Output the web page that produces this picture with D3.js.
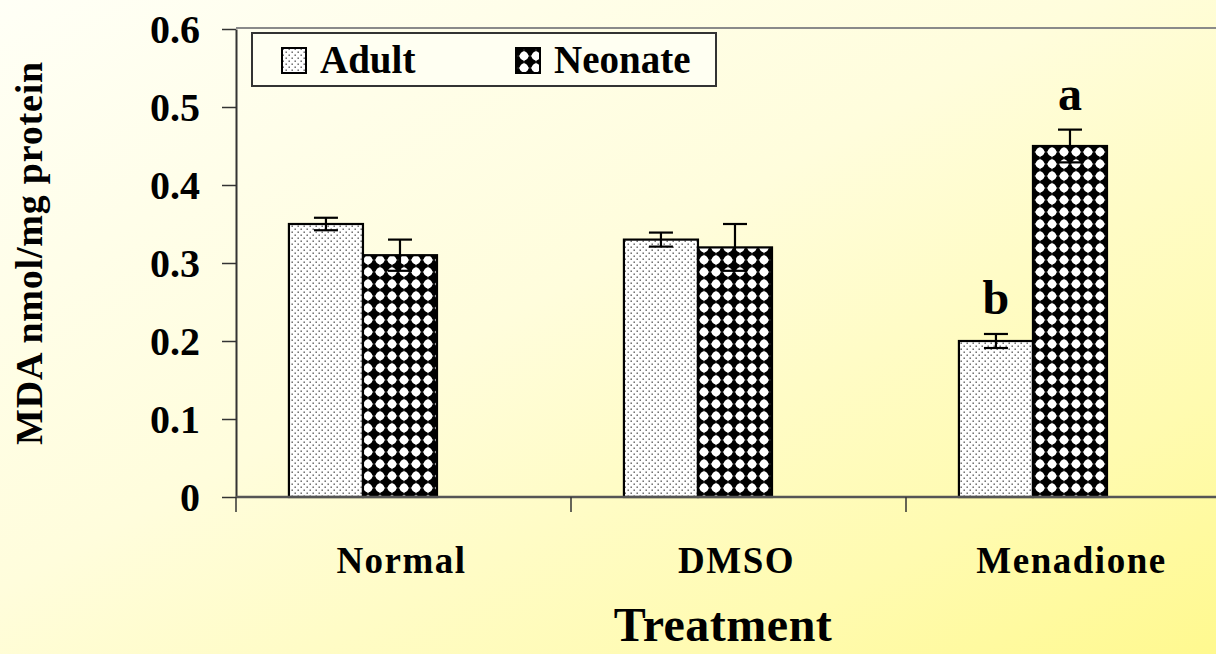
<!DOCTYPE html>
<html>
<head>
<meta charset="utf-8">
<script src="https://cdn.jsdelivr.net/npm/d3@7"></script>
<style>
html,body{margin:0;padding:0;background:#fff;}
svg{display:block;}
text{font-family:"Liberation Serif","Times New Roman",serif;font-weight:bold;fill:#000;}
</style>
</head>
<body>
<svg id="chart" width="1216" height="654"></svg>
<script>
// ---- data ----
const categories = ["Normal", "DMSO", "Menadione"];
const seriesNames = ["Adult", "Neonate"];
const adultValues = [0.35, 0.33, 0.20];
const neonateValues = [0.31, 0.32, 0.45];
const adultErrors = [0.008, 0.009, 0.009];
const neonateErrors = [0.02, 0.03, 0.021];
const adultLetters = ["", "", "b"];
const neonateLetters = ["", "", "a"];
const yTickValues = [0, 0.1, 0.2, 0.3, 0.4, 0.5, 0.6];
const yTickLabels = ["0", "0.1", "0.2", "0.3", "0.4", "0.5", "0.6"];

const W = 1216, H = 654;
const svg = d3.select("#chart");
const defs = svg.append("defs");

// background gradient
const bg = defs.append("linearGradient").attr("id", "bg")
  .attr("x1", 0).attr("y1", 0).attr("x2", 1).attr("y2", 1);
bg.append("stop").attr("offset", 0).attr("stop-color", "#fffff6");
bg.append("stop").attr("offset", 0.45).attr("stop-color", "#fffddc");
bg.append("stop").attr("offset", 0.8).attr("stop-color", "#fffbb0");
bg.append("stop").attr("offset", 1).attr("stop-color", "#fff98f");
svg.append("rect").attr("width", W).attr("height", H).attr("fill", "url(#bg)");

// patterns
const pDot = defs.append("pattern").attr("id", "dots").attr("patternUnits", "userSpaceOnUse")
  .attr("width", 6).attr("height", 6);
pDot.append("rect").attr("width", 6).attr("height", 6).attr("fill", "#fff");
pDot.append("rect").attr("x", 0.5).attr("y", 0.5).attr("width", 1.4).attr("height", 1.4).attr("fill", "#555");
pDot.append("rect").attr("x", 3.5).attr("y", 3.5).attr("width", 1.4).attr("height", 1.4).attr("fill", "#555");

const pDia = defs.append("pattern").attr("id", "diam").attr("patternUnits", "userSpaceOnUse")
  .attr("width", 12).attr("height", 12).attr("x", 2).attr("y", 2);
pDia.append("rect").attr("width", 12).attr("height", 12).attr("fill", "#000");
pDia.append("circle").attr("cx", 6).attr("cy", 6).attr("r", 4.4).attr("fill", "#fff");
pDia.append("path").attr("d", "M6,0.3L8.2,6L6,11.7L3.8,6Z M0.3,6L6,3.8L11.7,6L6,8.2Z").attr("fill", "#fff");

const fills = ["url(#dots)", "url(#diam)"];

// scales
const plotLeft = 236, plotTop = 29, plotBottom = 497;
const bandW = 335;
const x = d3.scaleBand().domain(categories)
  .range([plotLeft, plotLeft + bandW * categories.length]).padding(0);
const y = d3.scaleLinear().domain([0, 0.6]).range([plotBottom, plotTop]);

const barOffset = 0.158, barFrac = 0.221;
const bw = x.bandwidth() * barFrac;
function barX(c, s) { return x(c) + x.bandwidth() * barOffset + s * bw; }

// top border
svg.append("line").attr("x1", plotLeft).attr("x2", W).attr("y1", plotTop - 1).attr("y2", plotTop - 1)
  .attr("stroke", "#8a8a8a").attr("stroke-width", 2);

// bars
const series = [adultValues, neonateValues];
const errs = [adultErrors, neonateErrors];
const letters = [adultLetters, neonateLetters];
series.forEach((vals, s) => {
  const g = svg.append("g");
  g.selectAll("rect").data(categories).enter().append("rect")
    .attr("x", c => barX(c, s))
    .attr("y", (c, i) => y(vals[i]))
    .attr("width", bw)
    .attr("height", (c, i) => y(0) - y(vals[i]))
    .attr("fill", fills[s])
    .attr("stroke", "#000").attr("stroke-width", 2.2);
});

// error bars
series.forEach((vals, s) => {
  const g = svg.append("g").attr("stroke", "#000").attr("stroke-width", 2.2);
  categories.forEach((c, i) => {
    const cx = barX(c, s) + bw / 2;
    const hi = y(vals[i] + errs[s][i]), lo = y(vals[i] - errs[s][i]);
    g.append("line").attr("x1", cx).attr("x2", cx).attr("y1", hi).attr("y2", lo);
    g.append("line").attr("x1", cx - 12).attr("x2", cx + 12).attr("y1", hi).attr("y2", hi);
    g.append("line").attr("x1", cx - 12).attr("x2", cx + 12).attr("y1", lo).attr("y2", lo);
    if (letters[s][i]) {
      svg.append("text").attr("x", cx).attr("y", hi - 20)
        .attr("text-anchor", "middle").attr("font-size", 48)
        .text(letters[s][i]);
    }
  });
});

// axes
const yAxis = d3.axisLeft(y).tickValues(yTickValues)
  .tickFormat((d, i) => yTickLabels[i]).tickSize(14).tickSizeOuter(0);
const gy = svg.append("g").attr("transform", `translate(${plotLeft},0)`).call(yAxis);
gy.select(".domain").attr("stroke", "#333").attr("stroke-width", 2);
gy.selectAll(".tick line").attr("stroke", "#333").attr("stroke-width", 1.5);
gy.selectAll(".tick text").attr("font-size", 40).attr("x", -36).attr("dy", "0.34em")
  .style("font-family", '"Liberation Serif",serif').style("font-weight", "bold").attr("fill", "#000");

// x axis line
svg.append("line").attr("x1", plotLeft).attr("x2", W).attr("y1", plotBottom).attr("y2", plotBottom)
  .attr("stroke", "#555").attr("stroke-width", 2.5);
const xTicks = d3.range(categories.length).map(i => x(categories[i]));
svg.selectAll(".xt").data(xTicks).enter().append("line")
  .attr("x1", d => d).attr("x2", d => d).attr("y1", plotBottom).attr("y2", plotBottom + 15)
  .attr("stroke", "#333").attr("stroke-width", 1.5);
svg.selectAll(".xl").data(categories).enter().append("text")
  .attr("x", c => x(c) + x.bandwidth() / 2 - 2)
  .attr("y", 573).attr("text-anchor", "middle")
  .attr("font-size", 37).attr("letter-spacing", 1.5).text(c => c);

// axis titles
svg.append("text").attr("x", 723).attr("y", 641).attr("text-anchor", "middle")
  .attr("font-size", 48).attr("letter-spacing", 0.5).text("Treatment");
svg.append("text").attr("transform", "translate(42,253) rotate(-90)")
  .attr("text-anchor", "middle").attr("font-size", 38).attr("letter-spacing", 0.8)
  .text("MDA nmol/mg protein");

// legend
const leg = svg.append("g");
leg.append("rect").attr("x", 252).attr("y", 33).attr("width", 464).attr("height", 53)
  .attr("fill", "#fffff2").attr("stroke", "#333").attr("stroke-width", 2);
const legX = [282, 516];
seriesNames.forEach((n, s) => {
  leg.append("rect").attr("x", legX[s]).attr("y", 48).attr("width", 24).attr("height", 25)
    .attr("fill", fills[s]).attr("stroke", "#000").attr("stroke-width", 2);
  leg.append("text").attr("x", legX[s] + 38).attr("y", 73).attr("font-size", 39).text(n);
});
</script>
</body>
</html>
